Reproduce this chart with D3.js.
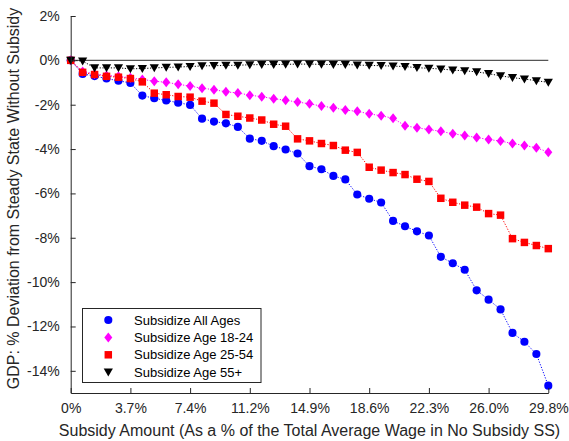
<!DOCTYPE html>
<html>
<head>
<meta charset="utf-8">
<script src="https://cdn.jsdelivr.net/npm/d3@7"></script>
<style>
  html, body { margin: 0; padding: 0; background: #fff; }
  svg { display: block; font-family: "Liberation Sans", Arial, Helvetica, sans-serif; }
</style>
</head>
<body>
<svg id="chart" width="569" height="441"></svg>
<script>
// Subsidy amount (% of total average wage in the no-subsidy steady state)
const subsidy = [0, 0.744, 1.488, 2.232, 2.976, 3.72, 4.464, 5.208, 5.952, 6.696,
  7.44, 8.184, 8.928, 9.672, 10.416, 11.16, 11.904, 12.648, 13.392, 14.136,
  14.88, 15.624, 16.368, 17.112, 17.856, 18.6, 19.344, 20.088, 20.832, 21.576,
  22.32, 23.064, 23.808, 24.552, 25.296, 26.04, 26.784, 27.528, 28.272, 29.016, 29.76];

// GDP deviation from the steady state without subsidy (%)
const allAges = [0, -0.61, -0.71, -0.82, -0.92, -1.02, -1.59, -1.71, -1.81, -1.91,
  -2.01, -2.63, -2.76, -2.84, -3.00, -3.53, -3.63, -3.87, -4.02, -4.20,
  -4.77, -4.91, -5.21, -5.37, -6.05, -6.24, -6.41, -7.24, -7.48, -7.71,
  -7.90, -8.86, -9.15, -9.44, -10.37, -10.79, -11.23, -12.29, -12.69, -13.24, -14.67];
const age18to24 = [0, -0.50, -0.61, -0.68, -0.72, -0.79, -0.86, -0.94, -0.99, -1.08,
  -1.16, -1.26, -1.32, -1.42, -1.47, -1.57, -1.64, -1.73, -1.80, -1.88,
  -1.96, -2.06, -2.14, -2.24, -2.30, -2.41, -2.50, -2.61, -2.95, -3.04,
  -3.12, -3.20, -3.31, -3.39, -3.48, -3.57, -3.64, -3.75, -3.84, -3.94, -4.14];
const age25to54 = [0, -0.54, -0.64, -0.72, -0.76, -0.82, -0.97, -1.48, -1.55, -1.63,
  -1.66, -1.84, -1.93, -2.44, -2.52, -2.60, -2.69, -2.88, -2.97, -3.54,
  -3.63, -3.75, -3.84, -4.05, -4.15, -4.82, -4.95, -5.06, -5.15, -5.36,
  -5.46, -6.22, -6.40, -6.53, -6.62, -6.91, -6.98, -8.04, -8.21, -8.35, -8.49];
const age55plus = [0, -0.03, -0.34, -0.34, -0.34, -0.38, -0.37, -0.34, -0.32, -0.30,
  -0.28, -0.25, -0.24, -0.23, -0.22, -0.20, -0.19, -0.19, -0.18, -0.17,
  -0.17, -0.18, -0.19, -0.19, -0.21, -0.23, -0.24, -0.26, -0.28, -0.33,
  -0.36, -0.39, -0.44, -0.47, -0.52, -0.60, -0.70, -0.78, -0.84, -0.92, -0.99];

const seriesNames = ["Subsidize All Ages", "Subsidize Age 18-24", "Subsidize Age 25-54", "Subsidize Age 55+"];

// Axis ticks
const xTickValues = [0, 3.72, 7.44, 11.16, 14.88, 18.6, 22.32, 26.04, 29.76];
const xTickLabels = ["0%", "3.7%", "7.4%", "11.2%", "14.9%", "18.6%", "22.3%", "26.0%", "29.8%"];
const yTickValues = [2, 0, -2, -4, -6, -8, -10, -12, -14];

const xLabel = "Subsidy Amount (As a % of the Total Average Wage in No Subsidy SS)";
const yLabel = "GDP: % Deviation from Steady State Without Subsidy";

const axisColor = "#262626";
const svg = d3.select("#chart");
const plotLeft = 70.7, plotRight = 548.3, plotTop = 16, plotBottom = 393;

const x = d3.scaleLinear().domain([0, 29.76]).range([plotLeft, plotRight]);
const y = d3.scaleLinear().domain([-15, 2]).range([plotBottom, plotTop]);

const series = [
  { name: seriesNames[0], values: allAges,   color: "#0000ff", symbol: d3.symbolCircle, size: 52 },
  { name: seriesNames[1], values: age18to24, color: "#ff00ff", symbol: "diamond",       size: 0 },
  { name: seriesNames[2], values: age25to54, color: "#ff0000", symbol: d3.symbolSquare, size: 56 },
  { name: seriesNames[3], values: age55plus, color: "#000000", symbol: "tri",           size: 0 }
];

function markerPath(s) {
  if (s.symbol === "diamond") return "M0,-5L4,0L0,5L-4,0Z";
  if (s.symbol === "tri") return "M-4.6,-3.6L4.6,-3.6L0,4.4Z";
  return d3.symbol().type(s.symbol).size(s.size)();
}

// Reference line at zero
svg.append("line")
  .attr("x1", x(0)).attr("x2", x(29.76))
  .attr("y1", y(0)).attr("y2", y(0))
  .attr("stroke", "#555").attr("stroke-width", 1.3);

// Series: dotted connecting lines and markers
const line = d3.line().x((d, i) => x(subsidy[i])).y(d => y(d));
series.forEach(s => {
  const g = svg.append("g");
  g.append("path")
    .attr("d", line(s.values))
    .attr("fill", "none")
    .attr("stroke", s.color)
    .attr("stroke-width", 1)
    .attr("stroke-dasharray", "1.2,1.6");
  g.selectAll("path.m").data(s.values).join("path")
    .attr("class", "m")
    .attr("d", markerPath(s))
    .attr("transform", (d, i) => `translate(${x(subsidy[i])},${y(d)})`)
    .attr("fill", s.color);
});

// Axes (ticks point inward)
const xAxis = d3.axisBottom(x).tickValues(xTickValues)
  .tickFormat((d, i) => xTickLabels[i]).tickSizeInner(-5).tickSizeOuter(0).tickPadding(10);
const gx = svg.append("g").attr("transform", `translate(0,${plotBottom})`).call(xAxis);

const yAxis = d3.axisLeft(y).tickValues(yTickValues)
  .tickFormat(d => d + "%").tickSizeInner(-5).tickSizeOuter(0).tickPadding(11);
const gy = svg.append("g").attr("transform", `translate(${plotLeft},0)`).call(yAxis);

[gx, gy].forEach(g => {
  g.select(".domain").attr("stroke", axisColor).attr("stroke-width", 1);
  g.selectAll(".tick line").attr("stroke", axisColor);
  g.selectAll(".tick text").attr("fill", axisColor).attr("font-size", 14)
    .attr("font-family", "'Liberation Sans', Arial, sans-serif");
});

// Axis titles
svg.append("text")
  .attr("x", (plotLeft + plotRight) / 2).attr("y", 436)
  .attr("text-anchor", "middle").attr("font-size", 16).attr("fill", axisColor)
  .text(xLabel);
svg.append("text")
  .attr("transform", `translate(19,${(plotTop + plotBottom) / 2 - 6}) rotate(-90)`)
  .attr("text-anchor", "middle").attr("font-size", 16).attr("fill", axisColor)
  .text(yLabel);

// Legend
const legend = svg.append("g");
legend.append("rect")
  .attr("x", 82.5).attr("y", 308.5).attr("width", 178.5).attr("height", 74)
  .attr("fill", "#fff").attr("stroke", axisColor).attr("stroke-width", 1);
series.forEach((s, i) => {
  const cy = 320 + i * 17.4;
  legend.append("path")
    .attr("d", markerPath(s))
    .attr("transform", `translate(108.3,${cy})`)
    .attr("fill", s.color);
  legend.append("text")
    .attr("x", 134).attr("y", cy).attr("dy", "0.35em")
    .attr("font-size", 13).attr("fill", "#000")
    .text(s.name);
});
</script>
</body>
</html>
